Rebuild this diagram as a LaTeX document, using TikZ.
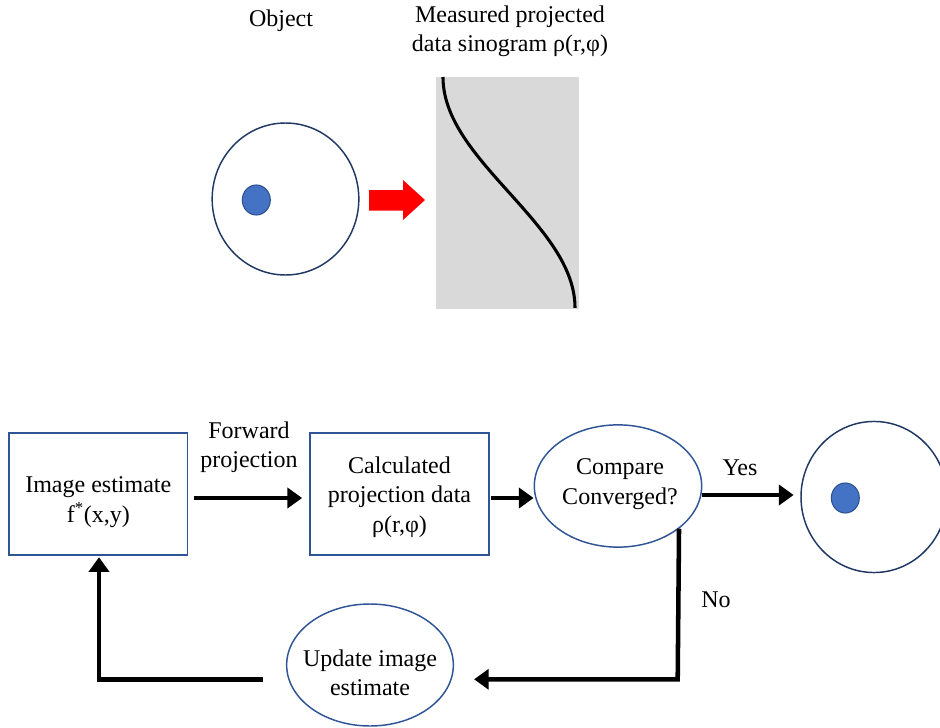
\documentclass[tikz,border=0pt]{standalone}
\usepackage{fontspec}
\setmainfont{Liberation Serif}
\usetikzlibrary{arrows.meta,shapes.geometric}
\definecolor{boxblue}{HTML}{2F5597}
\definecolor{navy}{HTML}{203864}
\definecolor{dotblue}{HTML}{4472C4}
\definecolor{dotedge}{HTML}{2F528F}
\definecolor{sinogray}{HTML}{D9D9D9}
\begin{document}
\begin{tikzpicture}[x=0.75pt,y=-0.75pt,
  every node/.style={font=\fontsize{18}{22}\selectfont},
  txt/.style={align=center, inner sep=0pt},
  procbox/.style={draw=boxblue, line width=1.1pt, fill=white, rectangle, align=center,
     minimum width=134pt, minimum height=91.7pt, inner sep=0pt},
  oval/.style={draw=boxblue, line width=1.1pt, fill=white, ellipse,
     minimum width=125.5pt, minimum height=91.7pt, inner sep=0pt},
  obj/.style={draw=navy, line width=1.1pt, fill=white, ellipse,
     minimum width=110pt, minimum height=114pt, inner sep=0pt},
  dot/.style={draw=dotedge, line width=0.8pt, fill=dotblue, ellipse,
     minimum width=21pt, minimum height=22.5pt, inner sep=0pt},
  flow/.style={line width=3.4pt, -{Triangle[length=11pt,width=15pt]}}
]
\useasboundingbox (0,0) rectangle (940,728);

% ---------- top part ----------
\node[txt] (objlbl) at (281,21) {Object};
\node[txt] (measlbl) at (510,31) {Measured projected\\data sinogram ρ(r,φ)};

\node[obj] (object) at (285.5,199) {};
\node[dot] (objdot) at (256.3,200) {};

% red arrow
\fill[red] (369,190) -- (403,190) -- (403,180) -- (425,200) -- (403,220) -- (403,210.7) -- (369,210.7) -- cycle;

% sinogram
\fill[sinogray] (435.7,76.7) rectangle (579,309.3);
\draw[line width=2.3pt, black, domain=0:1, samples=80, smooth]
  plot ({509-66*cos(180*\x)},{77+231*\x});

% ---------- bottom flow ----------
\node[procbox] (est) at (98.3,494) {};
\node[txt] (esttxt) at (98.3,502) {Image estimate\\f\textsuperscript{*}(x,y)};
\node[procbox] (calc) at (399.5,494) {};
\node[txt] (calctxt) at (399.5,497) {Calculated\\projection data\\ρ(r,φ)};
\node[oval] (cmp) at (618,486) {};
\node[txt] (cmptxt) at (620,484) {Compare\\Converged?};
\node[obj, minimum width=109.5pt, minimum height=113.3pt] (res) at (874,497) {};
\node[dot] (resdot) at (845.3,498) {};
\node[oval, minimum width=125pt, minimum height=91.5pt] (upd) at (370,665) {};
\node[txt] (updtxt) at (370,673) {Update image\\estimate};

\node[txt] (fwdlbl) at (249,447) {Forward\\projection};
\node[txt] (yeslbl) at (740,468) {Yes};
\node[txt] (nolbl) at (716,600) {No};

% forward projection arrow
\draw[flow, shorten <=4.5pt, shorten >=5.5pt] ([yshift=-3pt]est.east) -- ([yshift=-3pt]calc.west);
% calc -> compare
\coordinate (cstart) at ([yshift=-3pt]calc.east);
\draw[flow, shorten <=1pt, shorten >=0pt] (cstart) -- (cstart -| cmp.west);
% yes arrow
\coordinate (ystart) at ([yshift=-6.75pt]cmp.east);
\draw[flow, shorten >=5pt] (ystart) -- (ystart -| res.west);
% no branch
\coordinate (nocorner) at (677.7,679.3);
\draw[flow, shorten >=15pt] (cmp.-35.6) -- (nocorner) -- (nocorner -| upd.east);
% return to estimate
\coordinate (retcorner) at (99,679.3);
\draw[flow, shorten <=17pt, shorten >=1pt] (retcorner -| upd.west) -- (retcorner) -- (est.south -| retcorner);
\end{tikzpicture}
\end{document}
